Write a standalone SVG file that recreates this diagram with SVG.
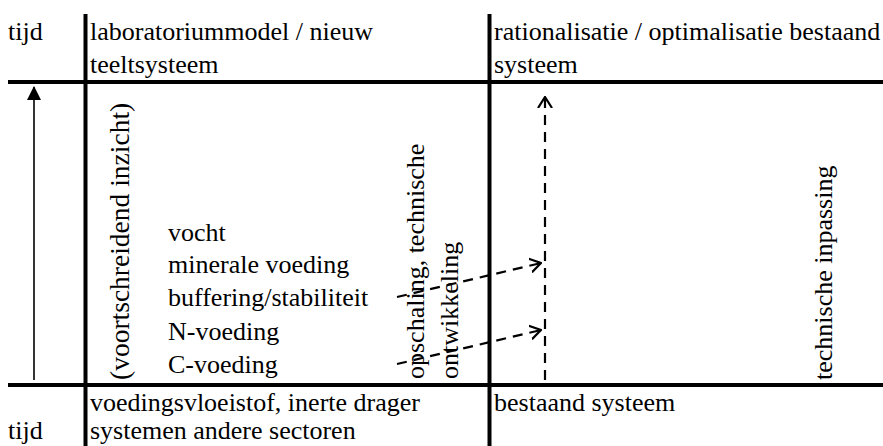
<svg xmlns="http://www.w3.org/2000/svg" width="883" height="446" viewBox="0 0 883 446">
<style>
text{font-family:"Liberation Serif","Times New Roman",serif;font-size:26px;fill:#000}
.big{font-size:27.5px}
.grid{stroke:#000;stroke-width:4;fill:none}
.dash{stroke:#000;stroke-width:2.2;fill:none;stroke-dasharray:10,7}
.solid{stroke:#000;stroke-width:1.6;fill:none}
</style>
<defs>
<marker id="filled" viewBox="0 0 14 14" refX="13" refY="7" markerWidth="14" markerHeight="14" markerUnits="userSpaceOnUse" orient="auto">
<path d="M0,0 L14,7 L0,14 Z" fill="#000"/>
</marker>
<marker id="open" viewBox="0 0 12 16" refX="11" refY="8" markerWidth="12" markerHeight="16" markerUnits="userSpaceOnUse" orient="auto">
<path d="M0,1 L11,8 L0,15" stroke="#000" stroke-width="2.2" fill="none"/>
</marker>
</defs>
<g id="grid">
<line class="grid" x1="8" y1="82" x2="883" y2="82"/>
<line class="grid" x1="8" y1="385" x2="883" y2="385"/>
<line class="grid" x1="85.5" y1="14" x2="85.5" y2="446"/>
<line class="grid" x1="489.5" y1="14" x2="489.5" y2="446"/>
</g>
<g id="header-tijd"><text x="8" y="40">tijd</text></g>
<g id="header-lab"><text x="90" y="40">laboratoriummodel / nieuw</text><text x="90" y="73">teeltsysteem</text></g>
<g id="header-rat"><text x="494" y="40">rationalisatie / optimalisatie bestaand</text><text x="494" y="73">systeem</text></g>
<g id="footer-lab"><text x="90" y="411">voedingsvloeistof, inerte drager</text><text x="90" y="439">systemen andere sectoren</text></g>
<g id="footer-tijd"><text x="8" y="439">tijd</text></g>
<g id="footer-best"><text x="494" y="411">bestaand systeem</text></g>
<g id="inzicht"><text class="big" transform="translate(129,380) rotate(-90)">(voortschreidend inzicht)</text></g>
<g id="factors">
<text x="168" y="241">vocht</text>
<text x="168" y="273">minerale voeding</text>
<text x="168" y="306">buffering/stabiliteit</text>
<text x="168" y="340">N-voeding</text>
<text x="168" y="373">C-voeding</text>
</g>
<g id="opschaling"><text transform="translate(424,379) rotate(-90)">opschaling, technische</text><text transform="translate(458,379) rotate(-90)">ontwikkeling</text></g>
<g id="inpassing"><text transform="translate(832,380) rotate(-90)">technische inpassing</text></g>
<g id="connectors">
<line class="solid" x1="34" y1="380" x2="34" y2="87" marker-end="url(#filled)"/>
<line class="dash" x1="545" y1="380" x2="545" y2="97" marker-end="url(#open)"/>
<line class="dash" x1="397" y1="297" x2="541" y2="263" marker-end="url(#open)"/>
<line class="dash" x1="397" y1="364" x2="541" y2="330" marker-end="url(#open)"/>
</g>
</svg>
